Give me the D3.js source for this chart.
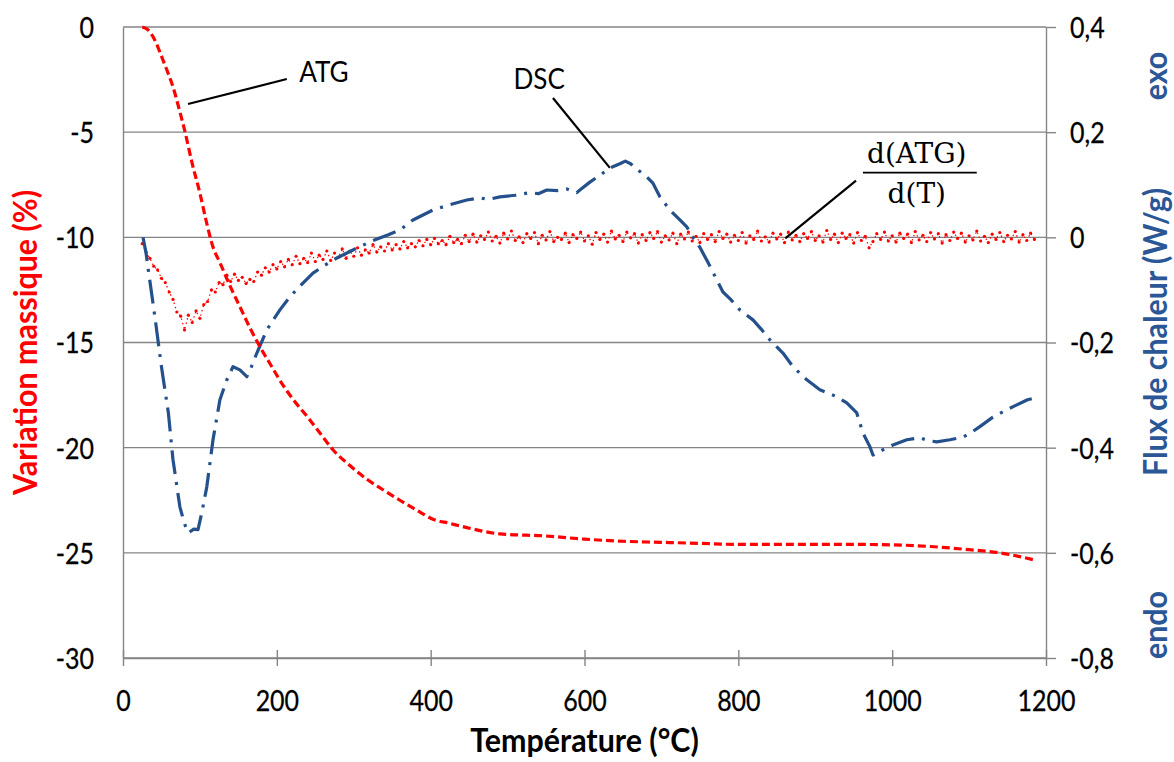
<!DOCTYPE html>
<html><head><meta charset="utf-8">
<script src="https://cdn.jsdelivr.net/npm/d3@7"></script>
<style>html,body{margin:0;padding:0;background:#fff;} svg{display:block;}</style>
</head><body><svg id="chart" width="1174" height="762"></svg>
<script>
// ---------------- data ----------------
const tempTicks = [0, 200, 400, 600, 800, 1000, 1200];
const massTicks = [0, -5, -10, -15, -20, -25, -30];
const fluxTicks = [0.4, 0.2, 0, -0.2, -0.4, -0.6, -0.8];

// ATG : mass variation (%) vs temperature (°C)  -> left axis
const atgData = [[25,0],[32,-0.12],[38,-0.4],[43,-0.75],[48,-1.2],[56,-1.95],[65,-2.85],[73,-3.9],[81,-5.04],[90,-6.5],[100,-7.9],[108,-9.2],[117,-10.46],[126,-11.2],[139,-12.3],[152,-13.3],[165,-14.3],[178,-15.2],[191,-16.0],[204,-16.8],[221,-17.7],[239,-18.5],[256,-19.3],[273,-20.1],[295,-20.85],[317,-21.5],[338,-22.0],[360,-22.5],[381,-22.95],[403,-23.4],[425,-23.6],[447,-23.8],[490,-24.1],[550,-24.2],[600,-24.35],[650,-24.45],[700,-24.5],[750,-24.55],[800,-24.6],[850,-24.6],[900,-24.6],[950,-24.6],[1000,-24.62],[1050,-24.7],[1100,-24.85],[1140,-25.0],[1186,-25.35]];

// DSC : heat flow (W/g) vs temperature -> right axis
const dscData = [[26,0.0],[30,-0.03],[33,-0.063],[42,-0.157],[50,-0.246],[59,-0.334],[65,-0.423],[74,-0.513],[80,-0.545],[85,-0.562],[92,-0.555],[97.5,-0.556],[103,-0.52],[109,-0.474],[117,-0.385],[126,-0.309],[135,-0.271],[143,-0.246],[152,-0.252],[161,-0.265],[167,-0.246],[174,-0.220],[187,-0.176],[204,-0.138],[217,-0.113],[232,-0.09],[247,-0.068],[273,-0.043],[299,-0.024],[325,-0.006],[345,0.005],[360,0.014],[377,0.033],[403,0.052],[425,0.062],[447,0.071],[464,0.075],[475,0.072],[490,0.077],[510,0.080],[529,0.085],[540,0.083],[551,0.090],[565,0.089],[577,0.092],[585,0.087],[590,0.085],[594,0.090],[607,0.105],[620,0.118],[633,0.132],[646,0.140],[653,0.145],[660,0.140],[666,0.132],[681,0.115],[689,0.103],[698,0.077],[711,0.052],[724,0.033],[733,0.020],[741,0.0],[750,-0.019],[761,-0.049],[772,-0.081],[780,-0.104],[790,-0.118],[802,-0.138],[819,-0.157],[830,-0.175],[841,-0.195],[858,-0.220],[871,-0.246],[889,-0.271],[906,-0.290],[928,-0.303],[941,-0.315],[954,-0.334],[962,-0.372],[971,-0.398],[975,-0.414],[982,-0.408],[988,-0.404],[1001,-0.395],[1019,-0.385],[1036,-0.381],[1045,-0.386],[1058,-0.389],[1075,-0.385],[1092,-0.380],[1104,-0.37],[1114,-0.360],[1131,-0.342],[1149,-0.328],[1160,-0.320],[1176,-0.309],[1187,-0.305]];

// d(ATG)/d(T) : derivative, drawn on the right-axis scale
const dtgData = [[25,-0.012],[30,-0.028],[35,-0.040],[40,-0.055],[45,-0.062],[50,-0.078],[55,-0.086],[60,-0.104],[65,-0.118],[70,-0.142],[75,-0.150],[80,-0.176],[85,-0.148],[90,-0.162],[95,-0.140],[100,-0.154],[105,-0.128],[110,-0.122],[115,-0.100],[120,-0.104],[125,-0.086],[130,-0.090],[135,-0.072],[140,-0.084],[145,-0.070],[150,-0.082],[155,-0.076],[160,-0.088],[165,-0.080],[170,-0.084],[175,-0.066],[180,-0.072],[185,-0.058],[190,-0.066],[195,-0.052],[200,-0.060],[205,-0.046],[210,-0.056],[215,-0.042],[220,-0.052],[225,-0.036],[230,-0.050],[235,-0.040],[240,-0.048],[245,-0.030],[250,-0.046],[255,-0.034],[260,-0.042],[265,-0.026],[270,-0.044],[275,-0.030],[280,-0.038],[285,-0.022],[290,-0.040],[295,-0.026],[300,-0.036],[305,-0.020],[310,-0.034],[315,-0.024],[320,-0.030],[325,-0.014],[330,-0.028],[335,-0.018],[340,-0.026],[345,-0.012],[350,-0.024],[355,-0.014],[360,-0.022],[365,-0.008],[370,-0.020],[375,-0.012],[380,-0.018],[385,-0.006],[390,-0.016],[395,-0.004],[400,-0.014],[405,-0.002],[410,-0.012],[415,-0.006],[420,-0.014],[425,0.002],[430,-0.010],[435,-0.004],[440,-0.012],[445,0.004],[450,-0.008],[455,0.006],[460,-0.009],[465,0.003],[470,-0.004],[475,0.010],[480,-0.007],[485,0.002],[490,-0.011],[495,0.008],[500,-0.003],[505,0.012],[510,-0.006],[515,0.001],[520,-0.010],[525,0.007],[530,-0.002],[535,0.009],[540,-0.012],[545,0.004],[550,-0.005],[555,0.011],[560,-0.008],[565,0.000],[570,-0.004],[575,0.008],[580,-0.010],[585,0.005],[590,-0.002],[595,0.010],[600,-0.007],[605,0.003],[610,-0.013],[615,0.009],[620,-0.004],[625,0.006],[630,-0.009],[635,0.012],[640,-0.003],[645,0.004],[650,-0.008],[655,0.010],[660,-0.001],[665,0.007],[670,-0.011],[675,0.005],[680,-0.006],[685,0.009],[690,-0.002],[695,0.011],[700,-0.009],[705,0.003],[710,-0.005],[715,0.008],[720,-0.012],[725,0.006],[730,-0.003],[735,0.010],[740,-0.007],[745,0.002],[750,-0.010],[755,0.007],[760,-0.004],[765,0.005],[770,-0.008],[775,0.011],[780,-0.002],[785,0.006],[790,-0.009],[795,0.004],[800,-0.006],[805,0.009],[810,-0.011],[815,0.003],[820,-0.004],[825,0.012],[830,-0.007],[835,0.001],[840,-0.009],[845,0.008],[850,-0.003],[855,0.006],[860,-0.010],[865,0.010],[870,-0.005],[875,0.004],[880,-0.008],[885,0.007],[890,-0.002],[895,0.011],[900,-0.006],[905,0.003],[910,-0.009],[915,0.013],[920,-0.004],[925,0.006],[930,-0.010],[935,0.008],[940,-0.002],[945,0.005],[950,-0.011],[955,0.009],[960,-0.006],[965,0.002],[970,-0.020],[975,-0.008],[980,0.007],[985,-0.004],[990,0.010],[995,-0.007],[1000,0.003],[1005,-0.009],[1010,0.008],[1015,-0.002],[1020,0.006],[1025,-0.010],[1030,0.011],[1035,-0.005],[1040,0.004],[1045,-0.008],[1050,0.009],[1055,-0.003],[1060,0.007],[1065,-0.011],[1070,0.005],[1075,-0.006],[1080,0.010],[1085,-0.002],[1090,0.008],[1095,-0.009],[1100,0.003],[1105,-0.005],[1110,0.012],[1115,-0.007],[1120,0.002],[1125,-0.010],[1130,0.006],[1135,-0.004],[1140,0.009],[1145,-0.008],[1150,0.004],[1155,-0.003],[1160,0.011],[1165,-0.009],[1170,0.005],[1175,-0.006],[1180,0.008],[1185,-0.004]];

// ---------------- layout & style ----------------
const plot = {left: 123, right: 1046, top: 27, bottom: 658};
const RED = "#ff0000", BLUE = "#24508c", BLUE_TXT = "#2b5797", GRID = "#858585";
const SANS = "Lato, 'Open Sans', sans-serif";
const K_TICK = 0.86, K_TITLE = 0.95;

const svg = d3.select("#chart");
const x = d3.scaleLinear().domain([0, 1200]).range([plot.left, plot.right]);
const yL = d3.scaleLinear().domain([-30, 0]).range([plot.bottom, plot.top]);
const yR = d3.scaleLinear().domain([-0.8, 0.4]).range([plot.bottom, plot.top]);

function squeeze(sel, k) {
  sel.each(function () {
    const w = this.getComputedTextLength();
    d3.select(this).attr("textLength", w * k).attr("lengthAdjust", "spacingAndGlyphs");
  });
  return sel;
}
const fmtFlux = v => (Math.abs(v) < 1e-9 ? "0" : (v < 0 ? "-" : "") + Math.abs(v).toFixed(1).replace(".", ","));
const fmtMass = v => (v === 0 ? "0" : (v < 0 ? "-" : "") + Math.abs(v));

// gridlines
svg.append("g").selectAll("line").data(massTicks).join("line")
  .attr("x1", plot.left).attr("x2", plot.right)
  .attr("y1", d => yL(d)).attr("y2", d => yL(d))
  .attr("stroke", GRID).attr("stroke-width", 1.4);

function styleTicks(g) {
  g.selectAll("text").attr("font-family", SANS).attr("font-size", 29).attr("fill", "#000")
    .attr("stroke", "#000").attr("stroke-width", 0.3);
  squeeze(g.selectAll("text"), K_TICK);
}

// left axis
const gL = svg.append("g").attr("transform", `translate(${plot.left},0)`)
  .call(d3.axisLeft(yL).tickValues(massTicks).tickFormat(fmtMass).tickSize(0).tickSizeOuter(0).tickPadding(29));
gL.select(".domain").attr("stroke", GRID).attr("stroke-width", 1.4);
gL.selectAll("text").attr("dy", "0.36em");
styleTicks(gL);

// right axis
const gR = svg.append("g").attr("transform", `translate(${plot.right},0)`)
  .call(d3.axisRight(yR).tickValues(fluxTicks).tickFormat(fmtFlux).tickSize(10).tickSizeOuter(0).tickPadding(14));
gR.select(".domain").attr("stroke", GRID).attr("stroke-width", 1.4);
gR.selectAll(".tick line").attr("stroke", GRID).attr("stroke-width", 1.4);
gR.selectAll("text").attr("dy", "0.36em");
styleTicks(gR);

// bottom axis
const gB = svg.append("g").attr("transform", `translate(0,${plot.bottom})`)
  .call(d3.axisBottom(x).tickValues(tempTicks).tickFormat(d3.format("d")).tickSize(8).tickSizeOuter(0).tickPadding(24));
gB.select(".domain").attr("stroke", GRID).attr("stroke-width", 1.4);
gB.selectAll(".tick line").attr("y1", -8).attr("stroke", GRID).attr("stroke-width", 1.4);
styleTicks(gB);

// series
const lineL = d3.line().x(d => x(d[0])).y(d => yL(d[1])).curve(d3.curveMonotoneX);
const lineR = d3.line().x(d => x(d[0])).y(d => yR(d[1]));

svg.append("path").datum(dtgData).attr("d", lineR)
  .attr("fill", "none").attr("stroke", RED).attr("stroke-width", 1.2).attr("stroke-dasharray", "1.5,3");
svg.append("g").selectAll("circle").data(dtgData).join("circle")
  .attr("cx", d => x(d[0])).attr("cy", d => yR(d[1])).attr("r", 1.6).attr("fill", RED);

svg.append("path").datum(dscData).attr("d", lineR)
  .attr("fill", "none").attr("stroke", BLUE).attr("stroke-width", 3.2)
  .attr("stroke-dasharray", "24,8,3,8").attr("stroke-linejoin", "round");

svg.append("path").datum(atgData).attr("d", lineL)
  .attr("fill", "none").attr("stroke", RED).attr("stroke-width", 3.2).attr("stroke-dasharray", "8,4");

// annotations (in data coordinates)
const ann = svg.append("g");
ann.append("line").attr("x1", x(84.5)).attr("y1", yL(-3.66)).attr("x2", x(213)).attr("y2", yL(-2.47))
  .attr("stroke", "#000").attr("stroke-width", 2.2);
squeeze(ann.append("text").attr("x", x(229)).attr("y", yL(-2.62)).text("ATG")
  .attr("font-family", SANS).attr("font-size", 29).attr("fill", "#000"), 0.9);
ann.append("line").attr("x1", x(559)).attr("y1", yR(0.265)).attr("x2", x(633)).attr("y2", yR(0.132))
  .attr("stroke", "#000").attr("stroke-width", 2.2);
squeeze(ann.append("text").attr("x", x(541)).attr("y", yR(0.282)).attr("text-anchor", "middle").text("DSC")
  .attr("font-family", SANS).attr("font-size", 29).attr("fill", "#000"), 0.9);
ann.append("line").attr("x1", x(861)).attr("y1", yR(-0.002)).attr("x2", x(953)).attr("y2", yR(0.108))
  .attr("stroke", "#000").attr("stroke-width", 2.2);
ann.append("line").attr("x1", x(962)).attr("y1", yR(0.123)).attr("x2", x(1110)).attr("y2", yR(0.123))
  .attr("stroke", "#000").attr("stroke-width", 1.6);
ann.append("text").attr("x", x(1032)).attr("y", yR(0.142)).attr("text-anchor", "middle").text("d(ATG)")
  .attr("font-family", "'DejaVu Serif', serif").attr("font-size", 28).attr("fill", "#000");
ann.append("text").attr("x", x(1032)).attr("y", yR(0.065)).attr("text-anchor", "middle").text("d(T)")
  .attr("font-family", "'DejaVu Serif', serif").attr("font-size", 28).attr("fill", "#000");

// axis titles
const titles = svg.append("g").attr("font-family", SANS).attr("font-weight", 700).attr("font-size", 32);
squeeze(titles.append("text").attr("x", (plot.left + plot.right) / 2).attr("y", 752)
  .attr("text-anchor", "middle").attr("fill", "#000").text("Température (°C)"), K_TITLE);
squeeze(titles.append("text").attr("transform", `translate(37,${(plot.top + plot.bottom) / 2}) rotate(-90)`)
  .attr("text-anchor", "middle").attr("fill", RED).text("Variation massique (%)"), K_TITLE);
squeeze(titles.append("text").attr("transform", `translate(1167,332) rotate(-90)`)
  .attr("text-anchor", "middle").attr("fill", BLUE_TXT).text("Flux de chaleur (W/g)"), K_TITLE);
squeeze(titles.append("text").attr("transform", `translate(1167,76) rotate(-90)`)
  .attr("text-anchor", "middle").attr("fill", BLUE_TXT).text("exo"), K_TITLE);
squeeze(titles.append("text").attr("transform", `translate(1167,625) rotate(-90)`)
  .attr("text-anchor", "middle").attr("fill", BLUE_TXT).text("endo"), K_TITLE);
</script></body></html>
